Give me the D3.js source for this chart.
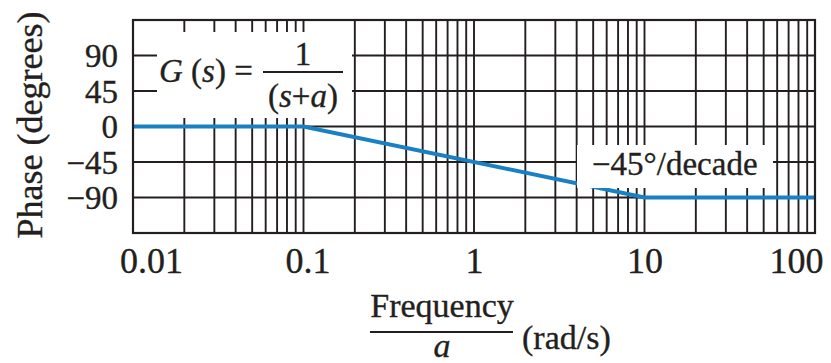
<!DOCTYPE html>
<html>
<head>
<meta charset="utf-8">
<script src="https://cdn.jsdelivr.net/npm/d3@7"></script>
<style>
  html, body { margin: 0; padding: 0; background: #fff; }
  svg { display: block; }
  text { font-family: "Liberation Serif", "Times New Roman", serif; fill: #231f20; stroke: #231f20; stroke-width: 0.35px; }
</style>
</head>
<body>
<svg id="chart" width="831" height="363"></svg>
<script>
// ---- data ----
const freqTicks = [0.01, 0.1, 1, 10, 100];
const freqTickLabels = ["0.01", "0.1", "1", "10", "100"];
const phaseTicks = [-90, -45, 0, 45, 90];
const phaseTickLabels = ["\u221290", "\u221245", "0", "45", "90"];
const curveFreq = [0.01, 0.1, 10, 100];
const curvePhase = [0, 0, -90, -90];
const slopeLabel = "\u221245\u00b0/decade";

(function () {
// ---- layout ----
const svg = d3.select("#chart");
const pL = 133, pR = 815, pT = 20, pB = 233;
const x = d3.scaleLog().domain([0.01, 100]).range([pL, pR]);
const y = d3.scaleLinear().domain([-135, 135]).range([pB, pT]);

// grid lines: vertical at every 1..9 x decade
const minor = [];
for (let e = -2; e < 2; e++) for (let k = 1; k <= 9; k++) minor.push(k * Math.pow(10, e));
minor.push(100);

const grid = svg.append("g").attr("stroke", "#231f20").attr("stroke-width", 1.9);
grid.selectAll("line.v").data(minor).join("line").attr("class", "v")
  .attr("x1", d => x(d)).attr("x2", d => x(d)).attr("y1", pT).attr("y2", pB);
grid.selectAll("line.h").data(phaseTicks).join("line").attr("class", "h")
  .attr("x1", pL).attr("x2", pR).attr("y1", d => y(d)).attr("y2", d => y(d));

// curve
const line = d3.line().x((d, i) => x(curveFreq[i])).y(d => y(d));
svg.append("path").datum(curvePhase).attr("d", line)
  .attr("fill", "none").attr("stroke", "#1a80c4").attr("stroke-width", 4);

// label boxes
svg.append("rect").attr("x", 157).attr("y", 32).attr("width", 195).attr("height", 86).attr("fill", "#fff");
svg.append("rect").attr("x", 577).attr("y", 145).attr("width", 196).attr("height", 43).attr("fill", "#fff");

// frame
svg.append("rect").attr("x", pL).attr("y", pT).attr("width", pR - pL).attr("height", pB - pT)
  .attr("fill", "none").attr("stroke", "#231f20").attr("stroke-width", 2.2);

// x axis labels
const xAxis = d3.axisBottom(x).tickValues(freqTicks)
  .tickFormat((d, i) => freqTickLabels[i]).tickSize(0).tickPadding(0);
const gx = svg.append("g").attr("transform", `translate(0,${pB})`).call(xAxis);
gx.select(".domain").remove();
gx.selectAll("text").attr("font-size", 36).attr("dy", null).attr("y", 40)
  .style("font-family", "'Liberation Serif', serif").attr("fill", "#231f20")
  .attr("dx", (d, i) => i === 0 ? 18 : (i === freqTicks.length - 1 ? -19 : (i === 1 ? 4 : 0)));

// y axis labels
const yAxis = d3.axisLeft(y).tickValues(phaseTicks)
  .tickFormat((d, i) => phaseTickLabels[i]).tickSize(0).tickPadding(15);
const gy = svg.append("g").attr("transform", `translate(${pL},0)`).call(yAxis);
gy.select(".domain").remove();
gy.selectAll("text").attr("font-size", 33).attr("dy", "0.34em")
  .style("font-family", "'Liberation Serif', serif").attr("fill", "#231f20");

// y title
svg.append("text").attr("transform", "translate(42,125) rotate(-90)")
  .attr("text-anchor", "middle").attr("font-size", 36).text("Phase (degrees)");

// transfer function label
const tf = svg.append("g").attr("font-size", 33);
const t1 = tf.append("text").attr("x", 159).attr("y", 82);
t1.append("tspan").attr("font-style", "italic").text("G");
t1.append("tspan").text(" (");
t1.append("tspan").attr("font-style", "italic").text("s");
t1.append("tspan").text(") =");
tf.append("text").attr("x", 303).attr("y", 65).attr("text-anchor", "middle").text("1");
tf.append("line").attr("x1", 263).attr("x2", 343).attr("y1", 72).attr("y2", 72)
  .attr("stroke", "#231f20").attr("stroke-width", 1.8);
const t2 = tf.append("text").attr("x", 303).attr("y", 107).attr("text-anchor", "middle");
t2.append("tspan").text("(");
t2.append("tspan").attr("font-style", "italic").text("s");
t2.append("tspan").text("+");
t2.append("tspan").attr("font-style", "italic").text("a");
t2.append("tspan").text(")");

// slope label
svg.append("text").attr("x", 592).attr("y", 175).attr("font-size", 33).text(slopeLabel);

// x title
const xt = svg.append("g");
xt.append("text").attr("x", 442).attr("y", 317).attr("text-anchor", "middle").attr("font-size", 34).text("Frequency");
xt.append("line").attr("x1", 370).attr("x2", 513).attr("y1", 332).attr("y2", 332)
  .attr("stroke", "#231f20").attr("stroke-width", 1.8);
xt.append("text").attr("x", 442).attr("y", 357).attr("text-anchor", "middle").attr("font-size", 34)
  .attr("font-style", "italic").text("a");
xt.append("text").attr("x", 522).attr("y", 349).attr("font-size", 34).text("(rad/s)");
})();
</script>
</body>
</html>
